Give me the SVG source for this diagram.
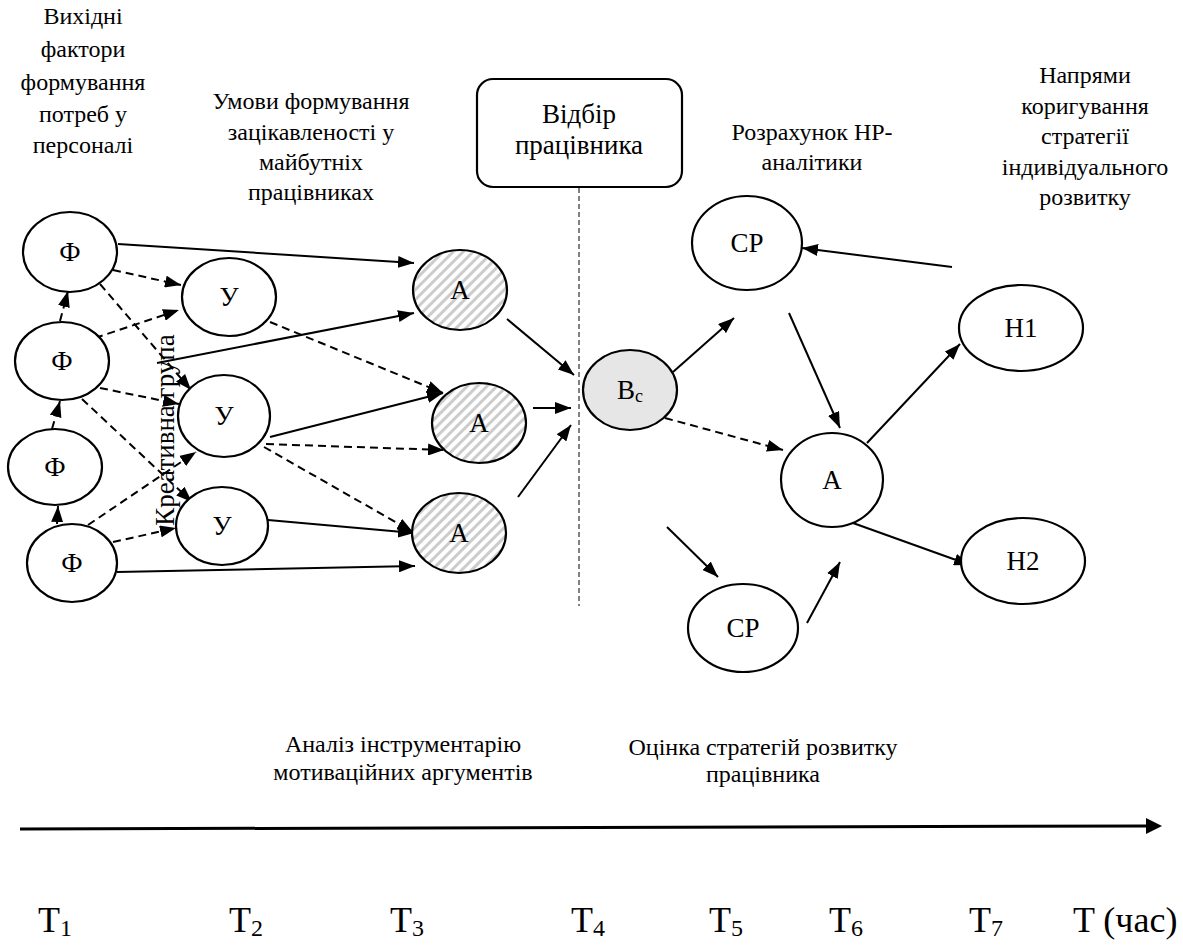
<svg xmlns="http://www.w3.org/2000/svg" width="1183" height="948" viewBox="0 0 1183 948">
<defs>
<marker id="ah" markerUnits="userSpaceOnUse" viewBox="0 0 16 12" refX="16" refY="6" markerWidth="16" markerHeight="12" orient="auto">
<path d="M0,0 L16,6 L0,12 Z" fill="#000"/>
</marker>
<pattern id="hatch" patternUnits="userSpaceOnUse" width="7" height="7" patternTransform="rotate(45)">
<rect width="7" height="7" fill="#fff"/>
<rect width="3" height="7" fill="#cccccc"/>
</pattern>
<style>
.n{fill:#fff;stroke:#000;stroke-width:2.2}
.h{fill:url(#hatch);stroke:#000;stroke-width:2.2}
.g{fill:#e6e6e6;stroke:#000;stroke-width:2.2}
text{font-family:'Liberation Serif','DejaVu Serif',serif;fill:#000;text-anchor:middle}
.lab{font-size:27px}
.cap{font-size:24px}
.big{font-size:36px;text-anchor:start}
.s{stroke:#000;stroke-width:2;fill:none;marker-end:url(#ah)}
.d{stroke:#000;stroke-width:2;fill:none;stroke-dasharray:8 5;marker-end:url(#ah)}
</style>
</defs>

<g id="captions">
<text class="cap" x="83" y="24">Вихідні</text>
<text class="cap" x="83" y="57">фактори</text>
<text class="cap" x="83" y="90">формування</text>
<text class="cap" x="83" y="122">потреб у</text>
<text class="cap" x="83" y="153">персоналі</text>
<text class="cap" x="311" y="109">Умови формування</text>
<text class="cap" x="311" y="140">зацікавленості у</text>
<text class="cap" x="311" y="170">майбутніх</text>
<text class="cap" x="311" y="200">працівниках</text>
<text class="cap" x="812" y="140">Розрахунок HP-</text>
<text class="cap" x="812" y="170">аналітики</text>
<text class="cap" x="1085" y="83">Напрями</text>
<text class="cap" x="1085" y="114">коригування</text>
<text class="cap" x="1085" y="144">стратегії</text>
<text class="cap" x="1085" y="175">індивідуального</text>
<text class="cap" x="1085" y="205">розвитку</text>
<text class="cap" x="403" y="752">Аналіз інструментарію</text>
<text class="cap" x="403" y="780">мотиваційних аргументів</text>
<text class="cap" x="763" y="755">Оцінка стратегій розвитку</text>
<text class="cap" x="763" y="782">працівника</text>
<text font-size="27" x="0" y="0" transform="translate(174,430) rotate(-90)">Креативна група</text>
</g>

<g id="box">
<rect x="477" y="79" width="205" height="108" rx="16" ry="16" fill="#fff" stroke="#000" stroke-width="2.2"/>
<text font-size="27" x="579" y="123">Відбір</text>
<text font-size="27" x="579" y="154">працівника</text>
</g>
<line x1="579" y1="188" x2="579" y2="606" stroke="#000" stroke-width="1" stroke-dasharray="5 3"/>

<g id="connectors">
<line class="s" x1="118" y1="244" x2="414" y2="263"/>
<line class="d" x1="113" y1="270" x2="181" y2="285"/>
<line class="d" x1="100" y1="284" x2="191" y2="390"/>
<line class="d" x1="60" y1="321" x2="68" y2="291"/>
<line class="d" x1="95" y1="338" x2="179" y2="310"/>
<line class="d" x1="100" y1="388" x2="179" y2="404"/>
<line class="d" x1="82" y1="399" x2="192" y2="502"/>
<line class="s" x1="157" y1="363" x2="414" y2="313"/>
<line class="d" x1="52" y1="429" x2="60" y2="401"/>
<line class="d" x1="57" y1="524" x2="58" y2="506"/>
<line class="d" x1="88" y1="525" x2="196" y2="452"/>
<line class="d" x1="113" y1="542" x2="176" y2="528"/>
<line class="s" x1="117" y1="572" x2="415" y2="566"/>
<line class="d" x1="270" y1="322" x2="443" y2="393"/>
<line class="s" x1="270" y1="437" x2="443" y2="393"/>
<line class="d" x1="266" y1="444" x2="444" y2="450"/>
<line class="d" x1="264" y1="447" x2="413" y2="532"/>
<line class="s" x1="268" y1="520" x2="414" y2="533"/>
<line class="s" x1="507" y1="319" x2="574" y2="375"/>
<line class="s" x1="533" y1="408" x2="571" y2="408"/>
<line class="s" x1="518" y1="497" x2="571" y2="425"/>
<line class="s" x1="673" y1="372" x2="734" y2="318"/>
<line class="d" x1="665" y1="418" x2="783" y2="450"/>
<line class="s" x1="667" y1="527" x2="718" y2="577"/>
<line class="s" x1="789" y1="313" x2="840" y2="428"/>
<line class="s" x1="952" y1="267" x2="802" y2="248"/>
<line class="s" x1="867" y1="443" x2="960" y2="344"/>
<line class="s" x1="853" y1="523" x2="970" y2="565"/>
<line class="s" x1="807" y1="623" x2="840" y2="562"/>
</g>

<g id="f1"><ellipse class="n" cx="70" cy="252" rx="47" ry="40"/><text class="lab" x="70" y="261">Ф</text></g>
<g id="f2"><ellipse class="n" cx="62" cy="361" rx="47" ry="39"/><text class="lab" x="62" y="370">Ф</text></g>
<g id="f3"><ellipse class="n" cx="55" cy="467" rx="47" ry="38"/><text class="lab" x="55" y="476">Ф</text></g>
<g id="f4"><ellipse class="n" cx="72" cy="563" rx="45" ry="39"/><text class="lab" x="72" y="572">Ф</text></g>
<g id="u1"><ellipse class="n" cx="229" cy="297" rx="47" ry="39"/><text class="lab" x="229" y="306">У</text></g>
<g id="u2"><ellipse class="n" cx="224" cy="416" rx="46" ry="41"/><text class="lab" x="224" y="425">У</text></g>
<g id="u3"><ellipse class="n" cx="222" cy="526" rx="46" ry="39"/><text class="lab" x="222" y="535">У</text></g>
<g id="a1"><ellipse class="h" cx="460" cy="290" rx="47" ry="40"/><text class="lab" x="460" y="299">А</text></g>
<g id="a2"><ellipse class="h" cx="479" cy="423" rx="47" ry="40"/><text class="lab" x="479" y="432">А</text></g>
<g id="a3"><ellipse class="h" cx="459" cy="533" rx="47" ry="40"/><text class="lab" x="459" y="542">А</text></g>
<g id="bc"><ellipse class="g" cx="630" cy="390" rx="47" ry="40"/><text class="lab" x="630" y="399">В<tspan font-size="18" dy="3">с</tspan></text></g>
<g id="cp1"><ellipse class="n" cx="747" cy="243" rx="55" ry="47"/><text class="lab" x="747" y="252">СР</text></g>
<g id="a4"><ellipse class="n" cx="832" cy="480" rx="51" ry="47"/><text class="lab" x="832" y="489">А</text></g>
<g id="cp2"><ellipse class="n" cx="743" cy="628" rx="55" ry="44"/><text class="lab" x="743" y="637">СР</text></g>
<g id="h1"><ellipse class="n" cx="1021" cy="328" rx="62" ry="43"/><text class="lab" x="1021" y="337">Н1</text></g>
<g id="h2"><ellipse class="n" cx="1023" cy="561" rx="62" ry="43"/><text class="lab" x="1023" y="570">Н2</text></g>

<g id="timeline">
<line x1="20" y1="829" x2="1148" y2="826" stroke="#000" stroke-width="3"/>
<path d="M1146,818 L1162,826 L1146,834 Z" fill="#000"/>
<text class="big" x="38" y="932">T<tspan font-size="24" dy="4">1</tspan></text>
<text class="big" x="229" y="932">T<tspan font-size="24" dy="4">2</tspan></text>
<text class="big" x="390" y="932">T<tspan font-size="24" dy="4">3</tspan></text>
<text class="big" x="571" y="932">T<tspan font-size="24" dy="4">4</tspan></text>
<text class="big" x="709" y="932">T<tspan font-size="24" dy="4">5</tspan></text>
<text class="big" x="829" y="932">T<tspan font-size="24" dy="4">6</tspan></text>
<text class="big" x="969" y="932">T<tspan font-size="24" dy="4">7</tspan></text>
<text class="big" x="1073" y="932">T (час)</text>
</g>
</svg>
